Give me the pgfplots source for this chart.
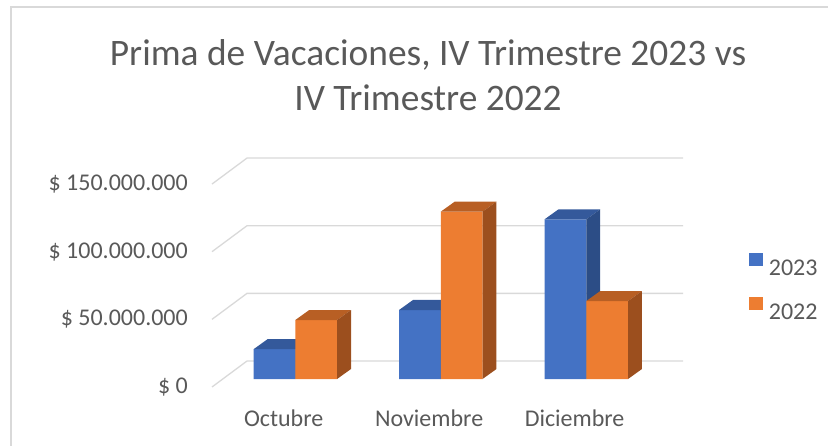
\documentclass[border=0pt]{standalone}
\usepackage{pgfplots}
\pgfplotsset{compat=1.18}
\usepackage{fontspec}
\setmainfont{Carlito}
\definecolor{txt}{HTML}{595959}
\definecolor{gridc}{HTML}{D9D9D9}
\definecolor{bfront}{HTML}{4472C4}
\definecolor{btop}{HTML}{34599B}
\definecolor{bside}{HTML}{2C4D86}
\definecolor{ofront}{HTML}{ED7D31}
\definecolor{otop}{HTML}{B85F24}
\definecolor{oside}{HTML}{9C4F1E}
\begin{document}
\begin{tikzpicture}
\useasboundingbox (0,0) rectangle (828pt,446pt);
\draw[gridc, line width=1.5pt] (11pt,-5pt) -- (11pt,439pt) -- (840pt,439pt);
\node[anchor=base, text=txt, font=\fontsize{37.4}{45}\selectfont, inner sep=0pt] at (428pt,380pt) {Prima de Vacaciones, IV Trimestre 2023 vs};
\node[anchor=base, text=txt, font=\fontsize{37.4}{45}\selectfont, inner sep=0pt] at (428pt,335pt) {IV Trimestre 2022};
\begin{axis}[
  at={(212pt,59pt)}, anchor=south west,
  scale only axis, width=471pt, height=230pt,
  xmin=-0.5725, xmax=2.665, ymin=-5.9, ymax=164.1,
  clip=false,
  axis x line*=bottom, axis y line*=left,
  axis line style={draw=none}, major tick length=0pt,
  xtick={-0.08,0.92,1.92},
  xticklabels={Octubre,Noviembre,Diciembre},
  ytick={-5.9,44.1,94.1,144.1},
  yticklabels={\$ 0,\$ 50.000.000,\$ 100.000.000,\$ 150.000.000},
  ticklabel style={font=\fontsize{24}{29}\selectfont, text=txt, inner sep=0pt},
  xticklabel style={yshift=-23pt},
  yticklabel style={xshift=-24pt},
  legend image code/.code={\fill[#1, draw=none] (0pt,1.8pt) rectangle (13.7pt,15.5pt);},
  legend style={at={(1.1401,0.432)}, anchor=west, draw=none, fill=none,
    inner xsep=0pt, inner ysep=0pt, font=\fontsize{24}{29}\selectfont, text=txt,
    row sep=18pt, nodes={inner xsep=3pt}},
  legend cell align=left,
  /tikz/every odd column/.append style={column sep=3pt},
]
% gridlines (back wall + floor diagonals)
\addplot[gridc, line width=1.3pt, forget plot] coordinates {(-0.5725,-5.9) (-0.332,13.3) (2.665,13.3)};
\addplot[gridc, line width=1.3pt, forget plot] coordinates {(-0.5725,44.1) (-0.332,63.3) (2.665,63.3)};
\addplot[gridc, line width=1.3pt, forget plot] coordinates {(-0.5725,94.1) (-0.332,113.3) (2.665,113.3)};
\addplot[gridc, line width=1.3pt, forget plot] coordinates {(-0.5725,144.1) (-0.332,163.3) (2.665,163.3)};
% 2023 (millions): fronts
\addplot[ybar, bar width=0.287, bar shift=-0.1435, fill=bfront, draw=none, forget plot] coordinates {(0,22) (1,51) (2,118)};
% 2023 tops
\addplot[fill=btop, draw=none, forget plot] coordinates {(-0.287,22) (0,22) (0.096,29.4) (-0.191,29.4)};
\addplot[fill=btop, draw=none, forget plot] coordinates {(0.713,51) (1,51) (1.096,58.4) (0.809,58.4)};
\addplot[fill=btop, draw=none, forget plot] coordinates {(1.713,118) (2,118) (2.096,125.4) (1.809,125.4)};
% 2023 sides
\addplot[fill=bside, draw=none, forget plot] coordinates {(0,0) (0,22) (0.096,29.4) (0.096,7.4)};
\addplot[fill=bside, draw=none, forget plot] coordinates {(1,0) (1,51) (1.096,58.4) (1.096,7.4)};
\addplot[fill=bside, draw=none, forget plot] coordinates {(2,0) (2,118) (2.096,125.4) (2.096,7.4)};
% 2022 (millions): fronts
\addplot[ybar, bar width=0.287, bar shift=0.1435, fill=ofront, draw=none, forget plot] coordinates {(0,43.6) (1,123.7) (2,57.6)};
% 2022 tops
\addplot[fill=otop, draw=none, forget plot] coordinates {(0,43.6) (0.287,43.6) (0.383,51) (0.096,51)};
\addplot[fill=otop, draw=none, forget plot] coordinates {(1,123.7) (1.287,123.7) (1.383,131.1) (1.096,131.1)};
\addplot[fill=otop, draw=none, forget plot] coordinates {(2,57.6) (2.287,57.6) (2.383,65) (2.096,65)};
% 2022 sides
\addplot[fill=oside, draw=none, forget plot] coordinates {(0.287,0) (0.287,43.6) (0.383,51) (0.383,7.4)};
\addplot[fill=oside, draw=none, forget plot] coordinates {(1.287,0) (1.287,123.7) (1.383,131.1) (1.383,7.4)};
\addplot[fill=oside, draw=none, forget plot] coordinates {(2.287,0) (2.287,57.6) (2.383,65) (2.383,7.4)};
\addlegendimage{fill=bfront}
\addlegendentry{2023}
\addlegendimage{fill=ofront}
\addlegendentry{2022}
\end{axis}
\end{tikzpicture}
\end{document}
